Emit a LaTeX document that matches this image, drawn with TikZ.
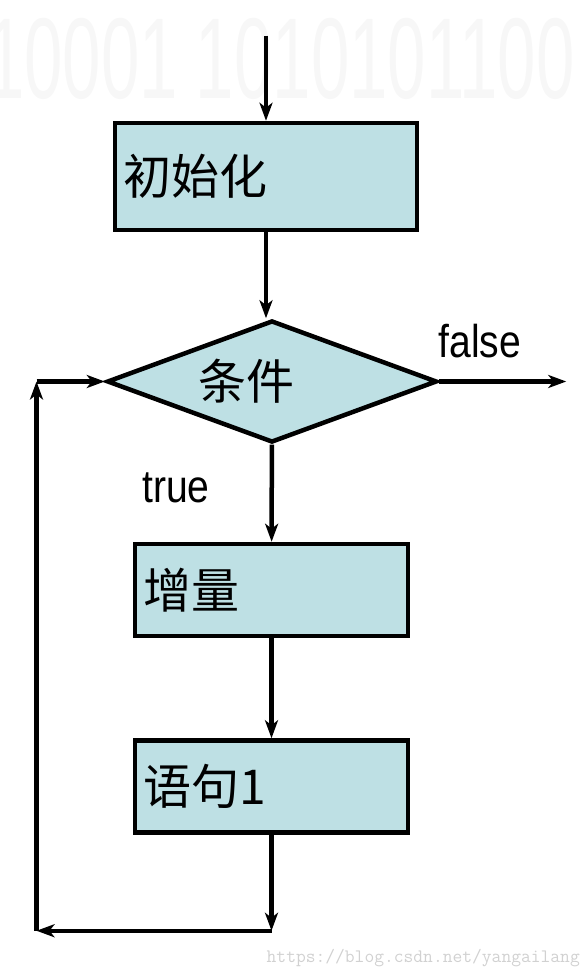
\documentclass[tikz,border=0pt]{standalone}
\usepackage{fontspec}
\setmainfont{Liberation Sans}
\newfontfamily\cjk{Noto Sans CJK SC}
\newfontfamily\lblfont[FakeStretch=0.85]{Liberation Sans}
\newfontfamily\bgfont[FakeStretch=0.6]{Liberation Sans}
\usepackage{xcolor}
\definecolor{boxfill}{HTML}{BEE0E4}
\usepackage{tikz}
\usetikzlibrary{shapes.geometric,arrows.meta,positioning}

\begin{document}
\begin{tikzpicture}[x=1pt, y=1pt,
      flowbox/.style={draw, line width=4.5pt, fill=boxfill, minimum height=92pt, inner xsep=8pt, text width=257pt, align=left, font=\cjk\fontsize{48}{48}\selectfont},
      cond/.style={diamond, draw, line width=4.5pt, fill=boxfill, minimum width=330pt, minimum height=122pt, inner sep=0pt},
      lbl/.style={inner sep=0pt, font=\lblfont\fontsize{46}{46}\selectfont},
      flow/.style={line width=4.5pt, -{Stealth[length=18pt, width=13pt, inset=5pt]}},
      node distance=88pt
    ]
    \useasboundingbox (0,0) rectangle (588,-976);
    % faint background and watermark
    \node[anchor=base west, inner sep=0pt, text=black!3, font=\bgfont\fontsize{115}{115}\selectfont] (bgdigits) at (-14,-99) {10001\hspace{18pt}1010101100};
    \node[anchor=base east, inner sep=0pt, text=black!18, font=\ttfamily\fontsize{19}{19}\selectfont] (mark) at (580,-962) {https://blog.csdn.net/yangailang};

    \node[flowbox, text width=286pt, minimum height=107pt] (init) at (266,-176.5) {初始化};
    \node[cond, below=86pt of init, xshift=6pt, label={[font=\cjk\fontsize{48}{48}\selectfont, xshift=-26pt]center:条件}] (cond) {};
    \node[flowbox, below=97pt of cond, xshift=-0.5pt] (incr) {增量};
    \node[flowbox, below=100pt of incr] (body) {语句1};

    \coordinate[above=85pt of init] (start);
    \coordinate[below=96pt of body] (br);
    \coordinate[left=235pt of br] (bl);
    \coordinate (tl) at (bl |- cond.west);
    \coordinate[right=127pt of cond] (exit);

    \node[lbl, above right=23pt and -1pt of cond.east] (falselbl) {false};
    \node[lbl, anchor=base west] (truelbl) at (142,-502) {true};

    \draw[flow] (start) -- (init);
    \draw[flow] (init) -- (init.south |- cond.north);
    \draw[flow] (cond) -- (incr);
    \draw[flow] (incr) -- (body);
    \draw[flow] (body) -- (br);
    \draw[flow] (br) -- (bl);
    \draw[flow] (bl) -- (tl);
    \draw[flow] (tl) -- (cond.west);
    \draw[flow] (cond.east) -- (exit);
  \end{tikzpicture}
\end{document}
